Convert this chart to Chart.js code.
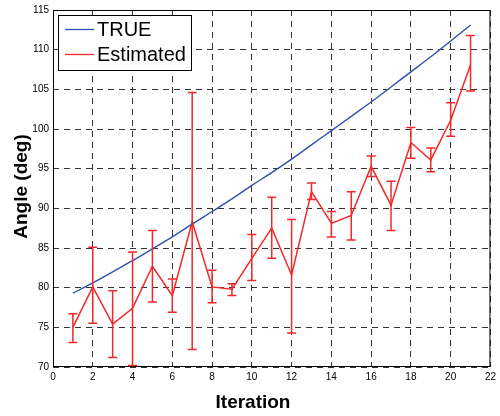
<!DOCTYPE html>
<html>
<head>
<meta charset="utf-8">
<script src="https://cdn.jsdelivr.net/npm/chart.js@4"></script>
<style>
  html, body { margin: 0; padding: 0; background: #fff; }
  #wrap { width: 500px; height: 416px; position: relative; }
</style>
</head>
<body>
<div id="wrap"><canvas id="chart" width="500" height="416"></canvas></div>
<script>
// data
const iterations = [1, 2, 3, 4, 5, 6, 7, 8, 9, 10, 11, 12, 13, 14, 15, 16, 17, 18, 19, 20, 21];
const trueAngle = [79.3, 80.6, 82.0, 83.4, 84.9, 86.4, 88.0, 89.6, 91.2, 92.9, 94.5,
                   96.2, 98.0, 99.8, 101.6, 103.4, 105.3, 107.2, 109.1, 111.1, 113.1];
const estAngle = [75.0, 80.1, 75.4, 77.4, 82.7, 79.0, 88.3, 80.1, 79.8, 83.7, 87.5,
                  81.6, 92.1, 88.1, 89.1, 95.3, 90.4, 98.3, 96.1, 101.1, 108.1];
const estHigh = [76.7, 85.1, 79.6, 84.5, 87.2, 81.1, 104.6, 82.2, 80.5, 86.7, 91.4,
                 88.6, 93.2, 89.6, 92.1, 96.6, 93.4, 100.2, 97.6, 103.3, 111.8];
const estLow = [73.1, 75.5, 71.2, 70.2, 78.2, 76.9, 72.2, 78.1, 79.0, 80.9, 83.7,
                74.3, 91.1, 86.4, 86.0, 94.0, 87.2, 96.3, 94.6, 99.1, 104.8];
const seriesNames = ['TRUE', 'Estimated'];
const xTitle = 'Iteration';
const yTitle = 'Angle (deg)';

const blue = '#3050b0';
const red = '#f42828';

// error bars drawn through the scales
const errorBars = {
  id: 'errorBars',
  afterDatasetsDraw(chart) {
    const { ctx, scales: { x, y } } = chart;
    ctx.save();
    ctx.strokeStyle = red;
    ctx.lineWidth = 1.5;
    iterations.forEach((it, i) => {
      const px = x.getPixelForValue(it);
      const top = y.getPixelForValue(estHigh[i]);
      const bot = y.getPixelForValue(estLow[i]);
      ctx.beginPath();
      ctx.moveTo(px, top); ctx.lineTo(px, bot);
      ctx.moveTo(px - 4.5, top); ctx.lineTo(px + 4.5, top);
      ctx.moveTo(px - 4.5, bot); ctx.lineTo(px + 4.5, bot);
      ctx.stroke();
    });
    ctx.restore();
  }
};

// frame, axis titles and boxed legend
const decorations = {
  id: 'decorations',
  beforeDatasetsDraw(chart) {
    const { ctx, chartArea: a } = chart;
    ctx.save();
    ctx.strokeStyle = '#000';
    ctx.lineWidth = 1;
    ctx.strokeRect(a.left + 0.5, a.top + 0.5, a.right - a.left - 1, a.bottom - a.top - 1);
    ctx.restore();
  },
  afterDraw(chart) {
    const { ctx, chartArea: a } = chart;
    ctx.save();
    ctx.fillStyle = '#000';
    ctx.font = 'bold 19px "Liberation Sans", Arial, sans-serif';
    ctx.textAlign = 'center';
    ctx.textBaseline = 'middle';
    ctx.fillText(xTitle, 253, 403);
    ctx.translate(22, (a.top + a.bottom) / 2 - 2);
    ctx.rotate(-Math.PI / 2);
    ctx.fillText(yTitle, 0, 0);
    ctx.restore();

    // legend
    ctx.save();
    const lx = a.left + 5, ly = a.top + 5, lw = 133, lh = 55;
    ctx.fillStyle = '#fff';
    ctx.fillRect(lx, ly, lw, lh);
    ctx.strokeStyle = '#000';
    ctx.lineWidth = 1;
    ctx.strokeRect(lx + 0.5, ly + 0.5, lw, lh);
    const colors = [blue, red];
    const rowY = [ly + 14.5, ly + 39.5];
    ctx.font = '20px "Liberation Sans", Arial, sans-serif';
    ctx.textAlign = 'left';
    ctx.textBaseline = 'middle';
    seriesNames.forEach((name, i) => {
      ctx.strokeStyle = colors[i];
      ctx.lineWidth = 1.3;
      ctx.beginPath();
      ctx.moveTo(lx + 7, rowY[i]);
      ctx.lineTo(lx + 36, rowY[i]);
      ctx.stroke();
      ctx.fillStyle = '#000';
      ctx.fillText(name, lx + 39, rowY[i] + 1);
    });
    ctx.restore();
  }
};

const gridOpts = { color: '#333', lineWidth: 1, drawTicks: false };

new Chart(document.getElementById('chart'), {
  type: 'line',
  data: {
    datasets: [
      {
        label: seriesNames[0],
        data: iterations.map((x, i) => ({ x, y: trueAngle[i] })),
        borderColor: blue,
        borderWidth: 1.4,
        pointRadius: 0,
        tension: 0.3,
        fill: false
      },
      {
        label: seriesNames[1],
        data: iterations.map((x, i) => ({ x, y: estAngle[i] })),
        borderColor: red,
        borderWidth: 1.5,
        pointRadius: 0,
        tension: 0,
        fill: false
      }
    ]
  },
  options: {
    responsive: false,
    animation: false,
    layout: { padding: { top: 9, right: 8, left: 0, bottom: 0 } },
    plugins: {
      legend: { display: false },
      tooltip: { enabled: false }
    },
    scales: {
      x: {
        type: 'linear',
        min: 0,
        max: 22,
        ticks: {
          stepSize: 2,
          color: '#000',
          padding: 4,
          maxRotation: 0,
          font: { family: '"Liberation Sans", Arial, sans-serif', size: 10 }
        },
        grid: gridOpts,
        border: { display: false, dash: [6, 5] },
        afterFit: s => { s.height = 49; }
      },
      y: {
        min: 70,
        max: 115,
        ticks: {
          stepSize: 5,
          color: '#000',
          padding: 4,
          font: { family: '"Liberation Sans", Arial, sans-serif', size: 10 }
        },
        grid: gridOpts,
        border: { display: false, dash: [6, 5] },
        afterFit: s => { s.width = 53; }
      }
    }
  },
  plugins: [errorBars, decorations]
});
</script>
</body>
</html>
